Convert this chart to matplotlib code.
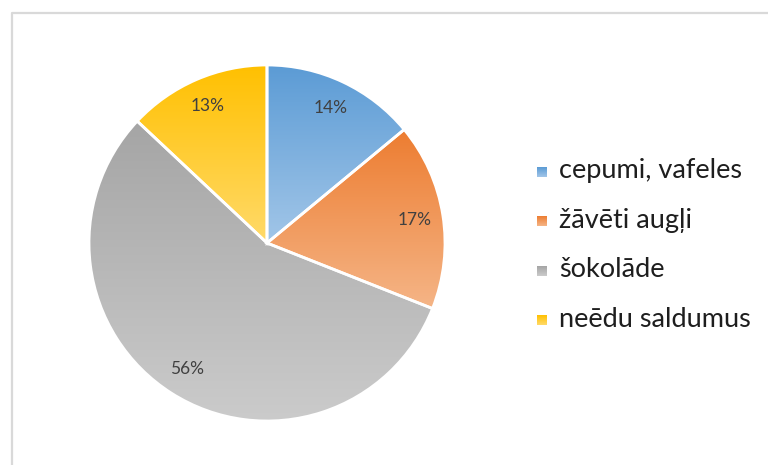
import numpy as np
import matplotlib.pyplot as plt
from matplotlib.colors import LinearSegmentedColormap

plt.rcParams['font.family'] = ['Lato', 'DejaVu Sans']

labels = ['cepumi, vafeles', 'žāvēti augļi', 'šokolāde', 'neēdu saldumus']
shares = [14, 17, 56, 13]
# top and bottom colour of each slice's vertical gradient
top_colors = ['#5B9BD5', '#ED7D31', '#A5A5A5', '#FFC000']
bottom_colors = ['#A2C6E8', '#F5B587', '#CBCBCB', '#FFDA6A']

fig = plt.figure(figsize=(7.68, 4.65), dpi=100)

# thin grey frame, only the top and left edges are visible
frame = fig.add_axes([0, 0, 1, 1])
frame.set_xlim(0, 768)
frame.set_ylim(465, 0)
frame.axis('off')
frame.plot([11.5, 11.5, 770], [470, 13.5, 13.5], color='#D9D9D9', lw=1.6)

# pie axes: centre at (267, 243) px, radius 178 px
r_px = 178
ax = fig.add_axes([(267 - r_px) / 768, (465 - 243 - r_px) / 465,
                   2 * r_px / 768, 2 * r_px / 465])
wedges, texts = ax.pie(shares, startangle=90, counterclock=False,
                       radius=1,
                       wedgeprops=dict(facecolor='none', edgecolor='white',
                                       linewidth=2.0, zorder=3))
ax.set_xlim(-1, 1)
ax.set_ylim(-1, 1)
ax.axis('off')

grad = np.linspace(0, 1, 256).reshape(-1, 1)
for w, c0, c1 in zip(wedges, top_colors, bottom_colors):
    ext = w.get_path().get_extents()
    cmap = LinearSegmentedColormap.from_list('g', [c0, c1])
    im = ax.imshow(grad, cmap=cmap, aspect='auto', origin='upper',
                   extent=[ext.x0, ext.x1, ext.y0, ext.y1], zorder=1,
                   interpolation='bilinear')
    im.set_clip_path(w)
ax.set_xlim(-1, 1)
ax.set_ylim(-1, 1)

# percentage labels
for w, v in zip(wedges, shares):
    mid = np.deg2rad((w.theta1 + w.theta2) / 2)
    ax.text(0.84 * np.cos(mid), 0.84 * np.sin(mid), f'{v}%',
            ha='center', va='center', fontsize=12.5, color='#404040', zorder=4)

# legend drawn by hand with small gradient squares
for i, (lab, c0, c1) in enumerate(zip(labels, top_colors, bottom_colors)):
    y = 172 + i * 49.5
    cmap = LinearSegmentedColormap.from_list('g', [c0, c1])
    frame.imshow(grad, cmap=cmap, aspect='auto',
                 extent=[537, 547, y + 5, y - 5], zorder=2)
    frame.text(559, y + 6, lab, ha='left', va='baseline', fontsize=19.5,
               color='#1E1E1E')
frame.set_xlim(0, 768)
frame.set_ylim(465, 0)

fig.savefig('out.png', dpi=100)
